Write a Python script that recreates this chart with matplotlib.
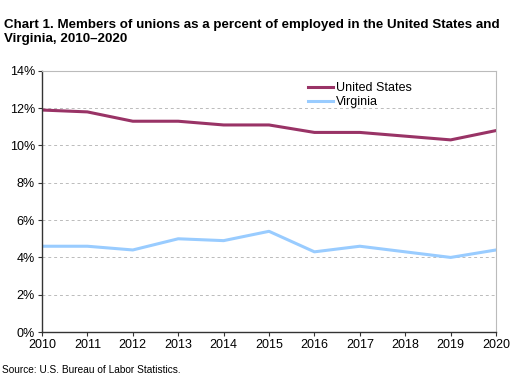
import matplotlib
matplotlib.use('Agg')
import matplotlib.pyplot as plt
from matplotlib.ticker import FuncFormatter

# ---------------------------------------------------------
# Data (union membership rate, percent of employed)
# ---------------------------------------------------------
years = [2010, 2011, 2012, 2013, 2014, 2015, 2016, 2017, 2018, 2019, 2020]
us_rate = [11.9, 11.8, 11.3, 11.3, 11.1, 11.1, 10.7, 10.7, 10.5, 10.3, 10.8]
va_rate = [4.6, 4.6, 4.4, 5.0, 4.9, 5.4, 4.3, 4.6, 4.3, 4.0, 4.4]
y_ticks = [0, 2, 4, 6, 8, 10, 12, 14]

plt.rcParams['font.family'] = ['Liberation Sans', 'DejaVu Sans']

fig = plt.figure(figsize=(5.28, 3.83), dpi=100)
ax = fig.add_axes([0.0795, 0.133, 0.860, 0.682])

ax.plot(years, us_rate, color='#993366', linewidth=2.2, label='United States')
ax.plot(years, va_rate, color='#99CCFF', linewidth=2.2, label='Virginia')

ax.set_xlim(years[0], years[-1])
ax.set_ylim(0, 14)
ax.set_xticks(years)
ax.set_yticks(y_ticks)
ax.yaxis.set_major_formatter(FuncFormatter(lambda v, _: f'{v:.0f}%'))
ax.tick_params(axis='both', labelsize=9, length=3, width=0.8, color='#333333', pad=2)

ax.grid(axis='y', color='#bbbbbb', linestyle=(0, (3, 3)), linewidth=0.7)
ax.set_axisbelow(True)
for side in ['top', 'right']:
    ax.spines[side].set_color('#bbbbbb')
    ax.spines[side].set_linewidth(0.8)
for side in ['left', 'bottom']:
    ax.spines[side].set_color('#333333')
    ax.spines[side].set_linewidth(1.0)

ax.legend(loc='upper left', bbox_to_anchor=(0.56, 1.0), frameon=False,
          fontsize=9, handlelength=2.0, handletextpad=0.3, labelspacing=0.15)

fig.text(0.008, 0.95, 'Chart 1. Members of unions as a percent of employed in the United States and\nVirginia, 2010\u20132020',
         fontsize=9.6, fontweight='bold', va='top', ha='left', linespacing=1.15)
fig.text(0.004, 0.022, 'Source: U.S. Bureau of Labor Statistics.', fontsize=7.3, ha='left', va='bottom')

fig.savefig('out.png', dpi=100)
